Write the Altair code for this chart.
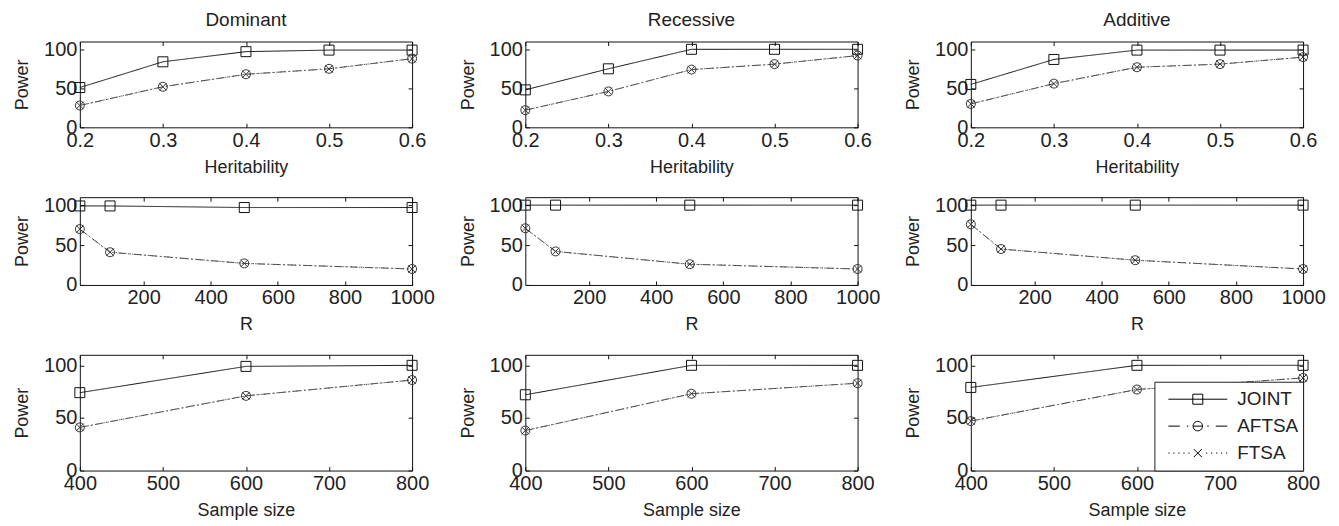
import math
import altair as alt
import pandas as pd

SERIES = ["JOINT", "AFTSA", "FTSA"]

HERIT = [0.2, 0.3, 0.4, 0.5, 0.6]
R_VALUES = [10, 100, 500, 1000]
SAMPLE_SIZES = [400, 600, 800]

H_DOM_JOINT = [51, 84, 97, 99, 99]
H_DOM_AFTSA = [28, 52, 68, 75, 88]
H_DOM_FTSA = [28, 52, 68, 75, 88]
H_REC_JOINT = [48, 75, 100, 100, 100]
H_REC_AFTSA = [22, 46, 74, 81, 92]
H_REC_FTSA = [22, 46, 74, 81, 92]
H_ADD_JOINT = [55, 87, 99, 99, 99]
H_ADD_AFTSA = [30, 56, 77, 81, 90]
H_ADD_FTSA = [30, 56, 77, 81, 90]

R_DOM_JOINT = [99, 99, 97, 97]
R_DOM_AFTSA = [70, 41, 27, 20]
R_DOM_FTSA = [70, 41, 27, 20]
R_REC_JOINT = [100, 100, 100, 100]
R_REC_AFTSA = [71, 42, 26, 20]
R_REC_FTSA = [71, 42, 26, 20]
R_ADD_JOINT = [100, 100, 100, 100]
R_ADD_AFTSA = [76, 45, 31, 20]
R_ADD_FTSA = [76, 45, 31, 20]

N_DOM_JOINT = [74, 99, 100]
N_DOM_AFTSA = [41, 71, 86]
N_DOM_FTSA = [41, 71, 86]
N_REC_JOINT = [72, 100, 100]
N_REC_AFTSA = [38, 73, 83]
N_REC_FTSA = [38, 73, 83]
N_ADD_JOINT = [79, 100, 100]
N_ADD_AFTSA = [47, 77, 88]
N_ADD_FTSA = [47, 77, 88]

FONT = "Liberation Sans"
TXT = "#222222"
FS_TITLE = 18
FS_LABEL = 20
FS_HEAD = 19

LINE_COLORS = ["#111111", "#444444", "#666666"]
DASHES = [[1, 0], [8, 3, 1.5, 3], [1.5, 2.5]]
MARKER_COLORS = ["#111111", "#333333", "#333333"]
MARKER_PATHS = [
    "M-1,-1L1,-1L1,1L-1,1Z",
    "M-0.9,0A0.9,0.9 0 1,0 0.9,0A0.9,0.9 0 1,0 -0.9,0Z",
    "M-0.75,-0.75L0.75,0.75M-0.75,0.75L0.75,-0.75",
]


def _poly_circle(r, n=20):
    pts = ["%s%.3f,%.3f" % ("M" if k == 0 else "L", r * math.cos(2 * math.pi * k / n),
                              r * math.sin(2 * math.pi * k / n)) for k in range(n)]
    return "".join(pts) + "Z"


def _dots(xs):
    return "".join("M%.2f,0L%.2f,0" % (x, x + 0.25) for x in xs)


# legend glyphs: line sample + marker, drawn at symbol size 100 (1 unit = 5 px)
LEGEND_PATHS = [
    "M-5.9,0L5.9,0M-1,-1L1,-1L1,1L-1,1Z",
    "M-5.9,0L-3.6,0M-2.2,0L-1.9,0M-0.95,0L0.95,0" + _poly_circle(0.95)
    + "M1.9,0L2.2,0M3.6,0L5.9,0",
    _dots([-5.9, -4.9, -3.9, -2.9, -1.9]) + "M-0.8,-0.8L0.8,0.8M-0.8,0.8L0.8,-0.8"
    + _dots([1.65, 2.65, 3.65, 4.65, 5.65]),
]

W = 333
HEIGHTS = [86, 88, 116]


def make_panel(xs, joint, aftsa, ftsa, xdomain, xticks, xfmt, xtitle, height,
               title=None, legend=False):
    rows = []
    for name, vals in zip(SERIES, [joint, aftsa, ftsa]):
        for x, v in zip(xs, vals):
            rows.append({"x": x, "power": v, "series": name})
    df = pd.DataFrame(rows)

    xsc = alt.Scale(domain=xdomain, nice=False, zero=False)
    ysc = alt.Scale(domain=[0, 110], nice=False, zero=False)

    ax_bottom = alt.Axis(orient="bottom", values=xticks, format=xfmt, title=xtitle,
                         offset=-4, tickSize=4, domain=False, grid=False,
                         labelPadding=3, titlePadding=8, labelFlush=False,
                         labelOverlap=False)
    ax_left = alt.Axis(orient="left", values=[0, 50, 100], title="Power",
                       offset=-4, tickSize=4, domain=False, grid=False,
                       labelPadding=3, titlePadding=12, labelOverlap=False)
    ax_top = alt.Axis(orient="top", values=xticks, labels=False, title=None,
                      offset=-4, tickSize=4, domain=False, grid=False)
    ax_right = alt.Axis(orient="right", values=[0, 50, 100], labels=False, title=None,
                        offset=-4, tickSize=4, domain=False, grid=False)

    lines = alt.Chart(df).mark_line(strokeWidth=1).encode(
        x=alt.X("x:Q", scale=xsc, axis=ax_bottom),
        y=alt.Y("power:Q", scale=ysc, axis=ax_left),
        color=alt.Color("series:N", scale=alt.Scale(domain=SERIES, range=LINE_COLORS), legend=None),
        strokeDash=alt.StrokeDash("series:N", scale=alt.Scale(domain=SERIES, range=DASHES), legend=None),
    )
    layers = [lines]
    for i, name in enumerate(SERIES):
        pt = alt.Chart(df).transform_filter(alt.datum.series == name).mark_point(
            shape=MARKER_PATHS[i], size=100, filled=False, strokeWidth=1,
            color=MARKER_COLORS[i], opacity=1,
        ).encode(
            x=alt.X("x:Q", scale=xsc, axis=ax_top if i == 0 else None),
            y=alt.Y("power:Q", scale=ysc, axis=ax_right if i == 0 else None),
        )
        layers.append(pt)
    if legend:
        # data-driven (sorted) domain so this legend is not merged with the
        # disabled colour/dash legends of the line layer
        leg = alt.Chart(df).mark_point(
            filled=False, strokeWidth=1, color="black", opacity=0,
        ).encode(
            x=alt.X("x:Q", scale=xsc, axis=None),
            y=alt.Y("power:Q", scale=ysc, axis=None),
            shape=alt.Shape("series:N", sort=SERIES, scale=alt.Scale(range=LEGEND_PATHS),
                            legend=alt.Legend(
                                title=None, orient="bottom-right", offset=0,
                                fillColor="white", strokeColor="#222222", padding=4,
                                symbolSize=100, symbolStrokeWidth=1,
                                symbolStrokeColor="black", symbolFillColor="transparent",
                                symbolOpacity=1, symbolOffset=30,
                                labelFont=FONT, labelFontSize=19, labelColor=TXT,
                                labelOffset=30, clipHeight=27, rowPadding=0,
                            )),
        )
        layers.append(leg)
    ch = alt.layer(*layers).resolve_axis(x="independent", y="independent")
    props = dict(width=W, height=height)
    if title:
        props["title"] = alt.TitleParams(text=title, anchor="middle", offset=9,
                                         font=FONT, fontSize=FS_HEAD, fontWeight="normal",
                                         color=TXT)
    return ch.properties(**props)


R_TICKS = [200, 400, 600, 800, 1000]
N_TICKS = [400, 500, 600, 700, 800]

panels = [
    make_panel(HERIT, H_DOM_JOINT, H_DOM_AFTSA, H_DOM_FTSA, [0.2, 0.6], HERIT, ".1f",
               "Heritability", HEIGHTS[0], title="Dominant"),
    make_panel(HERIT, H_REC_JOINT, H_REC_AFTSA, H_REC_FTSA, [0.2, 0.6], HERIT, ".1f",
               "Heritability", HEIGHTS[0], title="Recessive"),
    make_panel(HERIT, H_ADD_JOINT, H_ADD_AFTSA, H_ADD_FTSA, [0.2, 0.6], HERIT, ".1f",
               "Heritability", HEIGHTS[0], title="Additive"),
    make_panel(R_VALUES, R_DOM_JOINT, R_DOM_AFTSA, R_DOM_FTSA, [10, 1000], R_TICKS, "d", "R", HEIGHTS[1]),
    make_panel(R_VALUES, R_REC_JOINT, R_REC_AFTSA, R_REC_FTSA, [10, 1000], R_TICKS, "d", "R", HEIGHTS[1]),
    make_panel(R_VALUES, R_ADD_JOINT, R_ADD_AFTSA, R_ADD_FTSA, [10, 1000], R_TICKS, "d", "R", HEIGHTS[1]),
    make_panel(SAMPLE_SIZES, N_DOM_JOINT, N_DOM_AFTSA, N_DOM_FTSA, [400, 800], N_TICKS, "d",
               "Sample size", HEIGHTS[2]),
    make_panel(SAMPLE_SIZES, N_REC_JOINT, N_REC_AFTSA, N_REC_FTSA, [400, 800], N_TICKS, "d",
               "Sample size", HEIGHTS[2]),
    make_panel(SAMPLE_SIZES, N_ADD_JOINT, N_ADD_AFTSA, N_ADD_FTSA, [400, 800], N_TICKS, "d",
               "Sample size", HEIGHTS[2], legend=True),
]

chart = alt.concat(
    *panels, columns=3, spacing={"row": 70, "column": 113.5}, bounds="flush",
).resolve_scale(
    shape="independent", color="independent", strokeDash="independent",
).resolve_legend(
    shape="independent", color="independent", strokeDash="independent",
).properties(
    padding={"left": 5, "top": 2, "right": 5, "bottom": 5},
    background="white",
).configure_view(
    stroke="#111111", strokeWidth=1,
).configure_axis(
    labelFont=FONT, labelFontSize=FS_LABEL, labelColor=TXT,
    titleFont=FONT, titleFontSize=FS_TITLE, titleColor=TXT, titleFontWeight="normal",
    tickColor="#111111", tickWidth=1,
)

chart.save("out.html", embed_options={"renderer": "svg", "actions": False})
